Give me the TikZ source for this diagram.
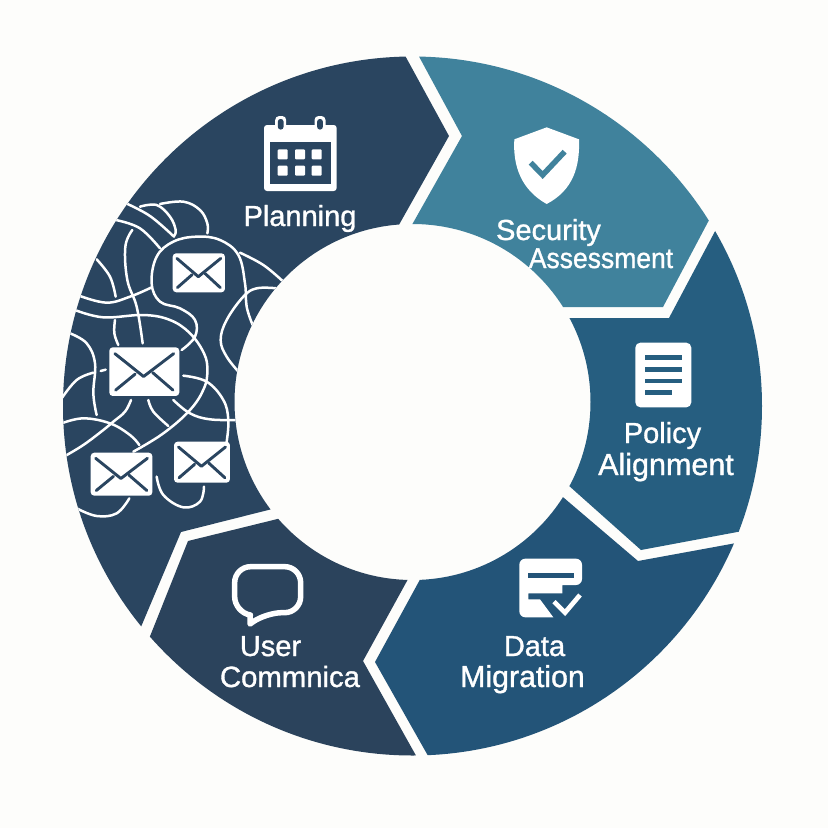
\documentclass[tikz,border=0pt]{standalone}
\usepackage{fontspec}
\newfontfamily\labfont[FakeBold=1.1]{Liberation Sans}
\definecolor{bgc}{HTML}{FDFDFB}
\definecolor{planc}{HTML}{2A4560}
\definecolor{secc}{HTML}{40829C}
\definecolor{polc}{HTML}{265E80}
\definecolor{datc}{HTML}{235478}
\definecolor{usrc}{HTML}{2B435C}
\tikzset{
  lab/.style={text=white,inner sep=0pt,anchor=base,font=\labfont\fontsize{#1}{#1}\selectfont},
  lab/.default=29,
  wire/.style={draw=white,line width=2.5pt,line cap=round},
  flap/.style={draw=planc,line width=2.9pt,line cap=round,line join=round},
}
\newcommand{\mailicon}[4]{%
  \begin{scope}[shift={(#1,#2)},x=#3*0.01pt,y=-#4*0.01pt]
    \fill[white,rounded corners=3.5pt] (0,0) rectangle (100,100);
    \draw[flap] (8,13) -- (49,60) -- (92,13);
    \draw[flap] (9,88) -- (37,55);
    \draw[flap] (91,88) -- (62,52);
  \end{scope}}
\newcommand{\tangle}[1]{\draw[wire] plot[smooth,tension=.65] coordinates {#1};}
\begin{document}
\begin{tikzpicture}[x=1pt,y=-1pt]
\useasboundingbox (0,0) rectangle (828,828);
\fill[bgc] (0,0) rectangle (828,828);
\begin{scope}[even odd rule]
  \clip (412.5,406) circle[radius=349.5pt] (412.5,402) circle[radius=178pt];
  \fill[planc] (396,39) -- (449,136) -- (400,223) -- (385,249) -- (300,502) -- (181,532) -- (130,653) -- (0,653) -- (0,0) -- (396,0) -- cycle;
  \fill[secc] (409,38) -- (462,136) -- (413,223) -- (401,245) -- (530,307) -- (663,307) -- (708,222) -- (730,180) -- (800,100) -- (409,0) -- cycle;
  \fill[polc] (730,203) -- (669,318) -- (540,318) -- (540,460) -- (641,550) -- (780,524) -- (828,400) -- (828,150) -- cycle;
  \fill[datc] (780,535) -- (638,561) -- (530,469) -- (435,552) -- (375,662) -- (440,777) -- (440,828) -- (828,828) -- (828,535) -- cycle;
  \fill[usrc] (424,550) -- (363,661) -- (428,777) -- (428,828) -- (135,828) -- (135,674) -- (188,541) -- (310,511) -- cycle;
  % tangled mail lines, in 3x coordinates from (50,180)
  \begin{scope}[shift={(50,180)},x=0.33333pt,y=-0.33333pt]
    \tangle{(228,70)(300,108)(372,170)}
    \tangle{(270,80)(320,75)(360,110)(377,150)(372,168)}
    \tangle{(330,72)(400,65)(450,90)(472,130)(472,160)}
    \tangle{(198,120)(270,145)(330,205)}
    \tangle{(247,150)(226,200)(232,300)(260,380)(278,490)}
    \tangle{(140,238)(180,290)(197,350)}
    \tangle{(90,348)(170,368)(240,350)(305,322)}
    \tangle{(75,390)(160,412)(280,405)(360,420)(420,460)(462,520)(472,570)(462,625)(420,690)(340,760)(250,815)}
    \tangle{(395,510)(435,470)(435,420)(390,385)(330,365)(305,310)(320,230)(370,185)(440,170)(510,180)(565,225)(585,310)(590,380)(608,435)}
    \tangle{(195,420)(193,460)(205,495)}
    \tangle{(570,218)(640,255)(700,305)}
    \tangle{(680,325)(620,325)(580,350)(530,420)(512,480)(530,530)(568,578)}
    \tangle{(60,460)(110,490)(135,550)(130,640)(140,705)}
    \tangle{(35,655)(80,600)(130,578)}
    \draw[wire] (152,573) -- (167,569);
    \tangle{(243,660)(225,695)(190,725)(160,750)(100,795)(45,828)}
    \tangle{(295,660)(310,695)(355,738)}
    \tangle{(370,660)(420,700)(480,718)(565,720)}
    \tangle{(400,587)(470,605)(520,660)(535,720)(530,785)}
    \tangle{(35,730)(100,715)(180,730)(240,765)(268,795)}
    \tangle{(80,985)(140,1008)(200,1000)(238,955)}
    \tangle{(320,890)(340,945)(400,982)(450,965)(462,920)}
  \end{scope}
\end{scope}
% envelopes
\mailicon{172.7}{253.3}{52.3}{39}
\mailicon{109.3}{347.3}{70}{48.7}
\mailicon{90.7}{452.7}{61.7}{43}
\mailicon{174}{441.7}{56}{41}
% calendar
\fill[white,rounded corners=3pt] (264,125) rectangle (336.7,191);
\fill[planc] (270,141.7) rectangle (331,184);
\foreach \cx in {280.7,320}{
  \fill[white,rounded corners=4pt] (\cx-5.5,116) rectangle (\cx+5.5,132.5);
  \fill[planc,rounded corners=2.5pt] (\cx-2.8,119) rectangle (\cx+2.8,129.5);
}
\foreach \cx in {277.7,295,311.7}\foreach \cy in {149.3,165.7}{
  \fill[white,rounded corners=1pt] (\cx,\cy) rectangle ++(10,10);
}
% shield and its tick
\begin{scope}[shift={(400,50)},x=0.33333pt,y=-0.33333pt]
  \fill[white] (440,232) -- (537,268) .. controls (540,350) and (520,420) .. (440,462) .. controls (365,420) and (338,350) .. (343,268) -- cycle;
  \draw[secc,line width=5.5pt,line join=miter] (392,338) -- (428,375) -- (494,305);
\end{scope}
% document and data icons
\begin{scope}[shift={(360,330)},x=0.33333pt,y=-0.33333pt]
  \fill[white,rounded corners=5pt] (826,38) rectangle (994,232);
  \foreach \ly/\lx in {82/967,118/967,153/967,187/935}{
    \draw[polc,line width=4.7pt] (855,\ly) -- (\lx,\ly);
  }
  \fill[white,rounded corners=6pt] (478,686) -- (666,686) -- (666,765) [sharp corners] -- (607,765) -- (607,790) -- (505,790) -- (505,808) -- (540,808) -- (580,862) [rounded corners=6pt] -- (478,862) -- cycle;
  \draw[datc,line width=4.7pt] (505,737) -- (642,737);
  \draw[white,line width=4.7pt] (582,815) -- (615,848) -- (660,795);
\end{scope}
% speech bubble
\begin{scope}[shift={(140,480)},x=0.33333pt,y=-0.33333pt]
  \draw[white,line width=5.5pt,line join=round] (330,432) -- (330,405) [rounded corners=16pt] -- (284,398) -- (284,260) -- (482,260) -- (482,398) -- (378,398) [sharp corners] -- cycle;
\end{scope}
% labels
\node[lab] (planning) at (300,226) {Planning};
\node[lab=29] (security) at (548.5,240) {Security};
\node[lab=28.5,xscale=0.93,transform shape] (assessment) at (601,268) {Assessment};
\node[lab=29] (policy) at (662.5,443) {Policy};
\node[lab=30.5] (alignment) at (666,475) {Alignment};
\node[lab=29] (data) at (534.5,656) {Data};
\node[lab=30.3] (migration) at (522.5,687) {Migration};
\node[lab=29] (user) at (270.5,656) {User};
\node[lab=29.3] (commnica) at (290,687) {Commnica};
\end{tikzpicture}
\end{document}
